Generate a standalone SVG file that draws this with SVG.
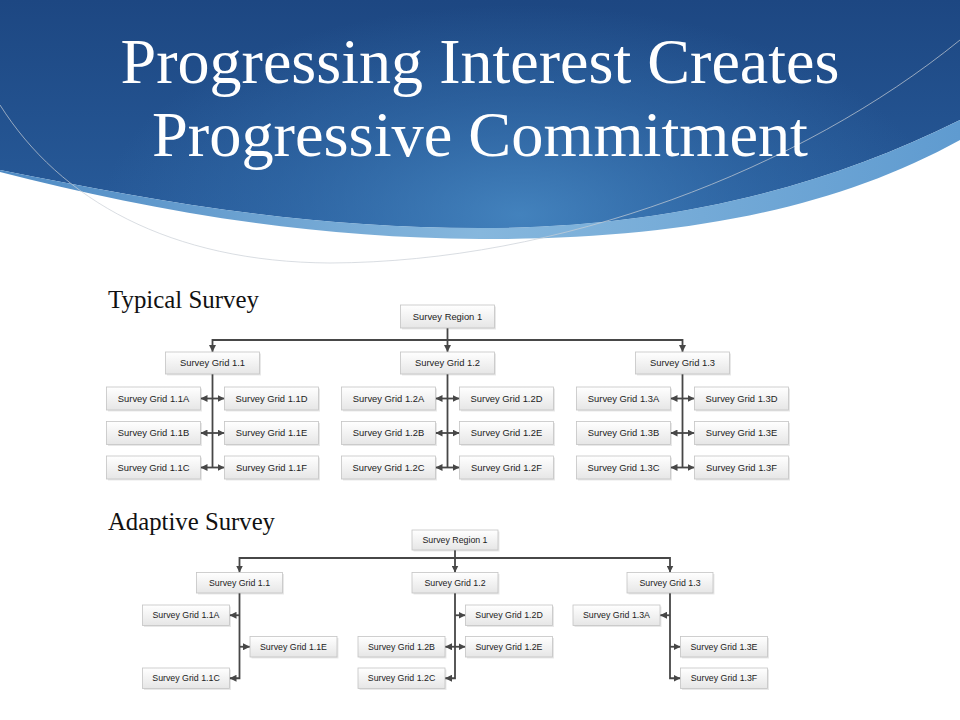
<svg xmlns="http://www.w3.org/2000/svg" width="960" height="720" viewBox="0 0 960 720">
<defs>
<linearGradient id="hdr" x1="0" y1="0" x2="0" y2="1">
<stop offset="0" stop-color="#1d4782"/>
<stop offset="1" stop-color="#285c9b"/>
</linearGradient>
<radialGradient id="glow" cx="520" cy="215" r="420" gradientUnits="userSpaceOnUse" gradientTransform="translate(520 215) scale(1 0.5) translate(-520 -215)">
<stop offset="0" stop-color="#4a8cc6" stop-opacity="0.8"/>
<stop offset="0.6" stop-color="#3a78b5" stop-opacity="0.35"/>
<stop offset="1" stop-color="#3a78b5" stop-opacity="0"/>
</radialGradient>
<linearGradient id="band" x1="0" y1="0" x2="1" y2="0">
<stop offset="0" stop-color="#4f8bc4"/>
<stop offset="0.5" stop-color="#86b7dd"/>
<stop offset="1" stop-color="#5f9bd0"/>
</linearGradient>
<linearGradient id="bg" x1="0" y1="0" x2="0" y2="1">
<stop offset="0" stop-color="#ffffff"/>
<stop offset="1" stop-color="#e6e6e6"/>
</linearGradient>
<marker id="ah" viewBox="0 0 10 10" refX="10" refY="5" markerWidth="7" markerHeight="7" markerUnits="userSpaceOnUse" orient="auto-start-reverse">
<path d="M0,0 L10,5 L0,10 z" fill="#474747"/>
</marker>
<style>
.box{fill:url(#bg);stroke:#c4c4c4;stroke-width:0.8}
.sh{fill:#000;opacity:0.09}
.t{font-family:"Liberation Sans",Arial,sans-serif;font-size:9.4px;fill:#222222;text-anchor:middle}
.a .t{font-size:8.8px}
.con{fill:none;stroke:#474747;stroke-width:1.8}
.ttl{font-family:"Liberation Serif","Times New Roman",serif;font-size:64px;fill:#ffffff;text-anchor:middle}
.lbl{font-family:"Liberation Serif","Times New Roman",serif;font-size:24.5px;fill:#111111}
</style>
</defs>
<rect width="960" height="720" fill="#ffffff"/>
<g id="header">
<path d="M0,0 H960 V120 C820,190 660,228 480,228 C300,228 150,200 0,170 Z" fill="url(#hdr)"/>
<path d="M0,0 H960 V120 C820,190 660,228 480,228 C300,228 150,200 0,170 Z" fill="url(#glow)"/>
<path d="M0,170 C150,200 300,228 480,228 C660,228 820,190 960,120 L960,140 C830,212 670,240 480,239 C300,238 140,208 0,172 Z" fill="url(#band)"/>
<path d="M0,105 C60,200 170,262 330,263 C560,262 800,170 960,40" fill="none" stroke="#c9ced6" stroke-width="1" opacity="0.7"/>
<text class="ttl" x="480" y="83" textLength="719" lengthAdjust="spacingAndGlyphs">Progressing Interest Creates</text>
<text class="ttl" x="480" y="156" textLength="656" lengthAdjust="spacingAndGlyphs">Progressive Commitment</text>
</g>
<text class="lbl" x="108" y="308" textLength="151" lengthAdjust="spacingAndGlyphs">Typical Survey</text>
<text class="lbl" x="108" y="530" textLength="167" lengthAdjust="spacingAndGlyphs">Adaptive Survey</text>

<g id="connectors">
<path class="con" d="M212.5,352 V340 H682.5 V352" marker-start="url(#ah)" marker-end="url(#ah)"/>
<path class="con" d="M447.5,328 V352" marker-end="url(#ah)"/>
<path class="con" d="M212.5,374 V467.5"/>
<path class="con" d="M447.5,374 V467.5"/>
<path class="con" d="M682.5,374 V467.5"/>
<path class="con" d="M200.5,398.5 H224.5" marker-start="url(#ah)" marker-end="url(#ah)"/>
<path class="con" d="M200.5,433 H224.5" marker-start="url(#ah)" marker-end="url(#ah)"/>
<path class="con" d="M200.5,467.5 H224.5" marker-start="url(#ah)" marker-end="url(#ah)"/>
<path class="con" d="M435.5,398.5 H459.5" marker-start="url(#ah)" marker-end="url(#ah)"/>
<path class="con" d="M435.5,433 H459.5" marker-start="url(#ah)" marker-end="url(#ah)"/>
<path class="con" d="M435.5,467.5 H459.5" marker-start="url(#ah)" marker-end="url(#ah)"/>
<path class="con" d="M670.5,398.5 H694.5" marker-start="url(#ah)" marker-end="url(#ah)"/>
<path class="con" d="M670.5,433 H694.5" marker-start="url(#ah)" marker-end="url(#ah)"/>
<path class="con" d="M670.5,467.5 H694.5" marker-start="url(#ah)" marker-end="url(#ah)"/>

<path class="con" d="M239.5,572.5 V558 H670 V572.5" marker-start="url(#ah)" marker-end="url(#ah)"/>
<path class="con" d="M455,550 V572.5" marker-end="url(#ah)"/>
<path class="con" d="M239.5,593 V678.25 H229.5" marker-end="url(#ah)"/>
<path class="con" d="M239.5,615.25 H229.5" marker-end="url(#ah)"/>
<path class="con" d="M239.5,646.75 H250" marker-end="url(#ah)"/>
<path class="con" d="M455,593 V678.25 H445" marker-end="url(#ah)"/>
<path class="con" d="M455,615.25 H465.5" marker-end="url(#ah)"/>
<path class="con" d="M445,646.75 H465.5" marker-start="url(#ah)" marker-end="url(#ah)"/>
<path class="con" d="M670,593 V678.25 H680.5" marker-end="url(#ah)"/>
<path class="con" d="M670,615.25 H660" marker-end="url(#ah)"/>
<path class="con" d="M670,646.75 H680.5" marker-end="url(#ah)"/>
</g>

<g id="typical">
<g id="t-region"><rect class="sh" x="402" y="306.5" width="94" height="23"/><rect class="box" x="400.5" y="305" width="94" height="23"/><text class="t" x="447.5" y="319.8">Survey Region 1</text></g>
<g id="t-g11"><rect class="sh" x="167" y="353.5" width="94" height="22"/><rect class="box" x="165.5" y="352" width="94" height="22"/><text class="t" x="212.5" y="366.3">Survey Grid 1.1</text></g>
<g id="t-g12"><rect class="sh" x="402" y="353.5" width="94" height="22"/><rect class="box" x="400.5" y="352" width="94" height="22"/><text class="t" x="447.5" y="366.3">Survey Grid 1.2</text></g>
<g id="t-g13"><rect class="sh" x="637" y="353.5" width="94" height="22"/><rect class="box" x="635.5" y="352" width="94" height="22"/><text class="t" x="682.5" y="366.3">Survey Grid 1.3</text></g>

<g id="t-g11a"><rect class="sh" x="108" y="388.5" width="94" height="23"/><rect class="box" x="106.5" y="387" width="94" height="23"/><text class="t" x="153.5" y="401.8">Survey Grid 1.1A</text></g>
<g id="t-g11b"><rect class="sh" x="108" y="423" width="94" height="23"/><rect class="box" x="106.5" y="421.5" width="94" height="23"/><text class="t" x="153.5" y="436.3">Survey Grid 1.1B</text></g>
<g id="t-g11c"><rect class="sh" x="108" y="457.5" width="94" height="23"/><rect class="box" x="106.5" y="456" width="94" height="23"/><text class="t" x="153.5" y="470.8">Survey Grid 1.1C</text></g>
<g id="t-g11d"><rect class="sh" x="226" y="388.5" width="94" height="23"/><rect class="box" x="224.5" y="387" width="94" height="23"/><text class="t" x="271.5" y="401.8">Survey Grid 1.1D</text></g>
<g id="t-g11e"><rect class="sh" x="226" y="423" width="94" height="23"/><rect class="box" x="224.5" y="421.5" width="94" height="23"/><text class="t" x="271.5" y="436.3">Survey Grid 1.1E</text></g>
<g id="t-g11f"><rect class="sh" x="226" y="457.5" width="94" height="23"/><rect class="box" x="224.5" y="456" width="94" height="23"/><text class="t" x="271.5" y="470.8">Survey Grid 1.1F</text></g>

<g id="t-g12a"><rect class="sh" x="343" y="388.5" width="94" height="23"/><rect class="box" x="341.5" y="387" width="94" height="23"/><text class="t" x="388.5" y="401.8">Survey Grid 1.2A</text></g>
<g id="t-g12b"><rect class="sh" x="343" y="423" width="94" height="23"/><rect class="box" x="341.5" y="421.5" width="94" height="23"/><text class="t" x="388.5" y="436.3">Survey Grid 1.2B</text></g>
<g id="t-g12c"><rect class="sh" x="343" y="457.5" width="94" height="23"/><rect class="box" x="341.5" y="456" width="94" height="23"/><text class="t" x="388.5" y="470.8">Survey Grid 1.2C</text></g>
<g id="t-g12d"><rect class="sh" x="461" y="388.5" width="94" height="23"/><rect class="box" x="459.5" y="387" width="94" height="23"/><text class="t" x="506.5" y="401.8">Survey Grid 1.2D</text></g>
<g id="t-g12e"><rect class="sh" x="461" y="423" width="94" height="23"/><rect class="box" x="459.5" y="421.5" width="94" height="23"/><text class="t" x="506.5" y="436.3">Survey Grid 1.2E</text></g>
<g id="t-g12f"><rect class="sh" x="461" y="457.5" width="94" height="23"/><rect class="box" x="459.5" y="456" width="94" height="23"/><text class="t" x="506.5" y="470.8">Survey Grid 1.2F</text></g>

<g id="t-g13a"><rect class="sh" x="578" y="388.5" width="94" height="23"/><rect class="box" x="576.5" y="387" width="94" height="23"/><text class="t" x="623.5" y="401.8">Survey Grid 1.3A</text></g>
<g id="t-g13b"><rect class="sh" x="578" y="423" width="94" height="23"/><rect class="box" x="576.5" y="421.5" width="94" height="23"/><text class="t" x="623.5" y="436.3">Survey Grid 1.3B</text></g>
<g id="t-g13c"><rect class="sh" x="578" y="457.5" width="94" height="23"/><rect class="box" x="576.5" y="456" width="94" height="23"/><text class="t" x="623.5" y="470.8">Survey Grid 1.3C</text></g>
<g id="t-g13d"><rect class="sh" x="696" y="388.5" width="94" height="23"/><rect class="box" x="694.5" y="387" width="94" height="23"/><text class="t" x="741.5" y="401.8">Survey Grid 1.3D</text></g>
<g id="t-g13e"><rect class="sh" x="696" y="423" width="94" height="23"/><rect class="box" x="694.5" y="421.5" width="94" height="23"/><text class="t" x="741.5" y="436.3">Survey Grid 1.3E</text></g>
<g id="t-g13f"><rect class="sh" x="696" y="457.5" width="94" height="23"/><rect class="box" x="694.5" y="456" width="94" height="23"/><text class="t" x="741.5" y="470.8">Survey Grid 1.3F</text></g>
</g>

<g id="adaptive" class="a">
<g id="a-region"><rect class="sh" x="413.5" y="531.5" width="86" height="20"/><rect class="box" x="412" y="530" width="86" height="20"/><text class="t" x="455" y="543">Survey Region 1</text></g>
<g id="a-g11"><rect class="sh" x="198" y="574" width="86" height="20.5"/><rect class="box" x="196.5" y="572.5" width="86" height="20.5"/><text class="t" x="239.5" y="585.8">Survey Grid 1.1</text></g>
<g id="a-g12"><rect class="sh" x="413.5" y="574" width="86" height="20.5"/><rect class="box" x="412" y="572.5" width="86" height="20.5"/><text class="t" x="455" y="585.8">Survey Grid 1.2</text></g>
<g id="a-g13"><rect class="sh" x="628.5" y="574" width="86" height="20.5"/><rect class="box" x="627" y="572.5" width="86" height="20.5"/><text class="t" x="670" y="585.8">Survey Grid 1.3</text></g>

<g id="a-g11a"><rect class="sh" x="144" y="606.5" width="87" height="20.5"/><rect class="box" x="142.5" y="605" width="87" height="20.5"/><text class="t" x="186" y="618.3">Survey Grid 1.1A</text></g>
<g id="a-g11e"><rect class="sh" x="251.5" y="638" width="87" height="20.5"/><rect class="box" x="250" y="636.5" width="87" height="20.5"/><text class="t" x="293.5" y="649.8">Survey Grid 1.1E</text></g>
<g id="a-g11c"><rect class="sh" x="144" y="669.5" width="87" height="20.5"/><rect class="box" x="142.5" y="668" width="87" height="20.5"/><text class="t" x="186" y="681.3">Survey Grid 1.1C</text></g>

<g id="a-g12d"><rect class="sh" x="467" y="606.5" width="87" height="20.5"/><rect class="box" x="465.5" y="605" width="87" height="20.5"/><text class="t" x="509" y="618.3">Survey Grid 1.2D</text></g>
<g id="a-g12b"><rect class="sh" x="359.5" y="638" width="87" height="20.5"/><rect class="box" x="358" y="636.5" width="87" height="20.5"/><text class="t" x="401.5" y="649.8">Survey Grid 1.2B</text></g>
<g id="a-g12e"><rect class="sh" x="467" y="638" width="87" height="20.5"/><rect class="box" x="465.5" y="636.5" width="87" height="20.5"/><text class="t" x="509" y="649.8">Survey Grid 1.2E</text></g>
<g id="a-g12c"><rect class="sh" x="359.5" y="669.5" width="87" height="20.5"/><rect class="box" x="358" y="668" width="87" height="20.5"/><text class="t" x="401.5" y="681.3">Survey Grid 1.2C</text></g>

<g id="a-g13a"><rect class="sh" x="574.5" y="606.5" width="87" height="20.5"/><rect class="box" x="573" y="605" width="87" height="20.5"/><text class="t" x="616.5" y="618.3">Survey Grid 1.3A</text></g>
<g id="a-g13e"><rect class="sh" x="682" y="638" width="87" height="20.5"/><rect class="box" x="680.5" y="636.5" width="87" height="20.5"/><text class="t" x="724" y="649.8">Survey Grid 1.3E</text></g>
<g id="a-g13f"><rect class="sh" x="682" y="669.5" width="87" height="20.5"/><rect class="box" x="680.5" y="668" width="87" height="20.5"/><text class="t" x="724" y="681.3">Survey Grid 1.3F</text></g>
</g>
</svg>
